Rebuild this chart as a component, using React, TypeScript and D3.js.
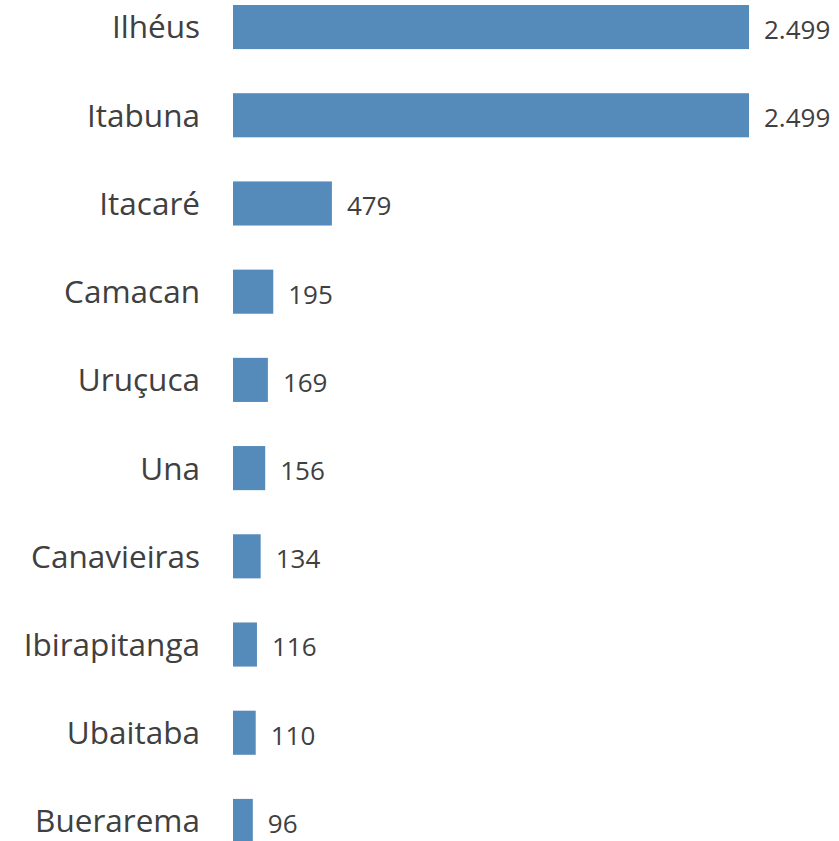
import * as d3 from 'd3';

const cities = ['Ilhéus', 'Itabuna', 'Itacaré', 'Camacan', 'Uruçuca', 'Una', 'Canavieiras', 'Ibirapitanga', 'Ubaitaba', 'Buerarema'];
const values = [2499, 2499, 479, 195, 169, 156, 134, 116, 110, 96];

const width = 839;
const height = 841;
const barLeft = 233;
const barRightMax = 749;

const fmt = (v: number) => d3.format(',')(v).replace(/,/g, '.');

export default function App() {
  const x = d3.scaleLinear([0, 2499], [barLeft, barRightMax]);
  const y = d3.scaleBand<string>(cities, [5, 843]).paddingInner(0.5).paddingOuter(0);

  return (
    <svg
      width={width}
      height={height}
      style={{ position: 'absolute', left: 0, top: 0, display: 'block' }}
      fontFamily="'Open Sans', sans-serif"
    >
      <g>
        {cities.map((c, i) => {
          const cy = (y(c) ?? 0) + y.bandwidth() / 2;
          return (
            <g key={c}>
              <text
                x={200}
                y={cy + 3}
                textAnchor="end"
                dominantBaseline="middle"
                fontSize={31.5}
                fill="#404040"
              >
                {c}
              </text>
              <rect
                x={x(0)}
                y={y(c)}
                width={x(values[i]) - x(0)}
                height={y.bandwidth()}
                fill="#558bba"
              />
              <text
                x={x(values[i]) + 15}
                y={cy + 5}
                dominantBaseline="middle"
                fontSize={26}
                fill="#404040"
              >
                {fmt(values[i])}
              </text>
            </g>
          );
        })}
      </g>
    </svg>
  );
}
